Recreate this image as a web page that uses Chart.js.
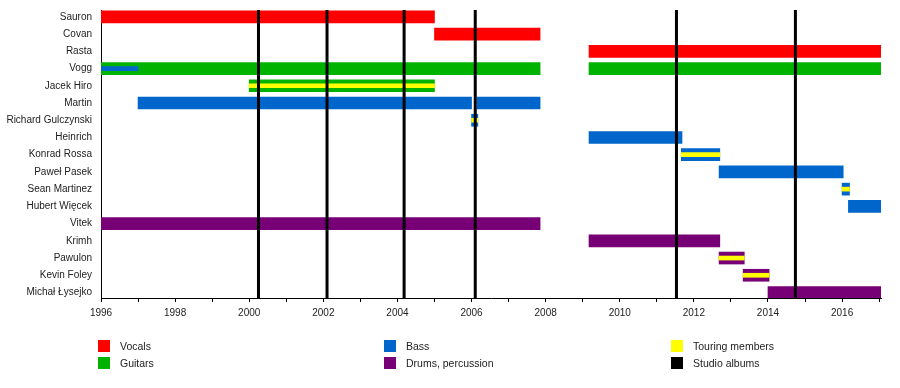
<!DOCTYPE html>
<html>
<head>
<meta charset="utf-8">
<script src="https://cdn.jsdelivr.net/npm/chart.js@4/dist/chart.umd.min.js"></script>
<style>
  body { margin: 0; background: #fff; }
  #wrap { position: relative; width: 900px; height: 388px; }
  .key { position: absolute; font: 10.5px "Liberation Sans", Arial, sans-serif; color: #222; line-height: 12px; }
  .key span { display: inline-block; width: 12px; height: 12px; vertical-align: top; margin-right: 10px; }
</style>
</head>
<body>
<div id="wrap">
  <canvas id="timeline" width="900" height="388"></canvas>
</div>
<script>
// Band member timeline
const members = ['Sauron', 'Covan', 'Rasta', 'Vogg', 'Jacek Hiro', 'Martin', 'Richard Gulczynski',
    'Heinrich', 'Konrad Rossa', 'Paweł Pasek', 'Sean Martinez', 'Hubert Więcek', 'Vitek', 'Krimh',
    'Pawulon', 'Kevin Foley', 'Michał Łysejko'];

const vocals = [['Sauron', 1996, 2005.0], ['Covan', 2005.0, 2007.85], ['Rasta', 2009.17, 2017.05]];
const guitars = [['Vogg', 1996, 2007.85], ['Vogg', 2009.17, 2017.05], ['Jacek Hiro', 2000.0, 2005.0]];
const bass = [['Martin', 1997.0, 2006.0], ['Martin', 2006.15, 2007.85], ['Richard Gulczynski', 2006.0, 2006.17],
    ['Heinrich', 2009.17, 2011.68], ['Konrad Rossa', 2011.66, 2012.7], ['Paweł Pasek', 2012.68, 2016.03],
    ['Sean Martinez', 2016.0, 2016.2], ['Hubert Więcek', 2016.17, 2017.05]];
const drums = [['Vitek', 1996, 2007.85], ['Krimh', 2009.17, 2012.7], ['Pawulon', 2012.68, 2013.36],
    ['Kevin Foley', 2013.33, 2014.03], ['Michał Łysejko', 2014.0, 2017.05]];
const secondBass = [['Vogg', 1996, 1997.0]];
const touring = [['Jacek Hiro', 2000.0, 2005.0], ['Richard Gulczynski', 2006.0, 2006.17],
    ['Konrad Rossa', 2011.66, 2012.7], ['Pawulon', 2012.68, 2013.36], ['Kevin Foley', 2013.33, 2014.03],
    ['Sean Martinez', 2016.0, 2016.2]];
const albums = [2000.25, 2002.1, 2004.18, 2006.1, 2011.53, 2014.74];
const years = [1996, 1997, 1998, 1999, 2000, 2001, 2002, 2003, 2004, 2005, 2006, 2007, 2008,
    2009, 2010, 2011, 2012, 2013, 2014, 2015, 2016, 2017];

const colors = {
    vocals: '#ff0000', guitars: '#00b300', bass: '#0066cc',
    drums: '#770077', touring: '#ffff00', albums: '#000000'
};

function toPoints(list) {
    return list.map(([name, start, end]) => ({ x: [start, end], y: members.indexOf(name) }));
}

function barSet(label, list, color, thickness, order) {
    return {
        label: label,
        data: toPoints(list),
        backgroundColor: color,
        barThickness: thickness,
        grouped: false,
        order: order
    };
}

const albumLines = {
    id: 'albumLines',
    afterDatasetsDraw(chart) {
        const { ctx, chartArea, scales } = chart;
        ctx.save();
        ctx.strokeStyle = colors.albums;
        ctx.lineWidth = 3;
        albums.forEach(year => {
            const x = scales.x.getPixelForValue(year);
            ctx.beginPath();
            ctx.moveTo(x, chartArea.top);
            ctx.lineTo(x, chartArea.bottom);
            ctx.stroke();
        });
        ctx.restore();
    }
};

const font = { family: '"Liberation Sans", Arial, sans-serif', size: 10 };

new Chart(document.getElementById('timeline'), {
    type: 'bar',
    data: {
        datasets: [
            barSet('Vocals', vocals, colors.vocals, 12, 2),
            barSet('Guitars', guitars, colors.guitars, 12, 2),
            barSet('Bass', bass, colors.bass, 12, 2),
            barSet('Drums, percussion', drums, colors.drums, 12, 2),
            barSet('Bass (second)', secondBass, colors.bass, 4, 1),
            barSet('Touring members', touring, colors.touring, 4, 1)
        ]
    },
    options: {
        indexAxis: 'y',
        responsive: false,
        animation: false,
        layout: { padding: { left: 0, top: 10, right: 19, bottom: 66 } },
        plugins: { legend: { display: false }, tooltip: { enabled: false } },
        scales: {
            x: {
                type: 'linear',
                min: 1996,
                max: 2017.05,
                afterBuildTicks: scale => { scale.ticks = years.map(v => ({ value: v })); },
                afterFit: scale => {
                    scale.height = 24;
                    scale.paddingLeft = 0;
                    scale.paddingRight = 0;
                },
                ticks: {
                    autoSkip: false,
                    maxRotation: 0,
                    color: '#222',
                    font: font,
                    padding: 5,
                    callback: v => (v % 2 === 0 ? String(v) : '')
                },
                grid: { drawOnChartArea: false, drawTicks: true, tickLength: 4, color: '#000' },
                border: { display: true, color: '#000', width: 1 }
            },
            y: {
                type: 'linear',
                reverse: true,
                offset: false,
                min: -0.4,
                max: 16.32,
                afterBuildTicks: scale => { scale.ticks = members.map((m, i) => ({ value: i })); },
                afterFit: scale => {
                    scale.width = 101;
                    scale.paddingTop = 0;
                    scale.paddingBottom = 0;
                },
                ticks: {
                    autoSkip: false,
                    color: '#222',
                    font: font,
                    padding: 1,
                    callback: v => members[v] || ''
                },
                grid: { display: false },
                border: { display: true, color: '#000', width: 1 }
            }
        }
    },
    plugins: [albumLines]
});

// legend, three columns of two
const keys = [
    ['Vocals', colors.vocals, 98, 340], ['Guitars', colors.guitars, 98, 357],
    ['Bass', colors.bass, 384, 340], ['Drums, percussion', colors.drums, 384, 357],
    ['Touring members', colors.touring, 671, 340], ['Studio albums', colors.albums, 671, 357]
];
const wrap = document.getElementById('wrap');
keys.forEach(([label, color, x, y]) => {
    const el = document.createElement('div');
    el.className = 'key';
    el.style.left = x + 'px';
    el.style.top = y + 'px';
    el.innerHTML = `<span style="background:${color}"></span>${label}`;
    wrap.appendChild(el);
});
</script>
</body>
</html>
